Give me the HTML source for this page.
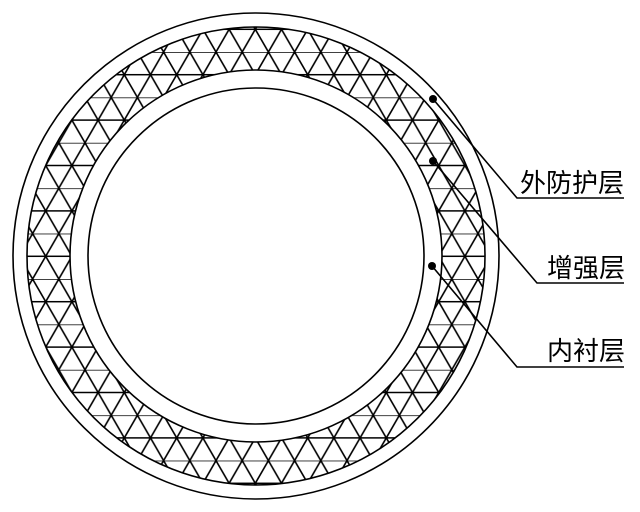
<!DOCTYPE html>
<html><head><meta charset="utf-8"><style>
html,body{margin:0;padding:0;background:#fff;}
svg{display:block;}
text{font-family:"Liberation Sans","Noto Sans CJK SC",sans-serif;font-size:26px;fill:#000;}
</style></head><body>
<svg width="640" height="512" viewBox="0 0 640 512" xmlns="http://www.w3.org/2000/svg">
<defs>
<pattern id="tri" patternUnits="userSpaceOnUse" width="26.2" height="45.4" patternTransform="translate(216,52)">
<g stroke="#000" stroke-width="1.6" fill="none">
<line x1="-1" y1="0" x2="27.2" y2="0"/>
<line x1="-1" y1="22.7" x2="27.2" y2="22.7"/>
<line x1="0" y1="0" x2="26.2" y2="45.4"/>
<line x1="26.2" y1="0" x2="0" y2="45.4"/>
</g>
</pattern>
</defs>
<path d="M256,27 a229,229 0 1,0 0.01,0 Z M256,70 a186,186 0 1,1 -0.01,0 Z" fill="url(#tri)" fill-rule="evenodd"/>
<g fill="none" stroke="#000" stroke-width="1.6">
<circle cx="256" cy="256" r="243"/>
<circle cx="256" cy="256" r="229"/>
<circle cx="256" cy="256" r="186"/>
<circle cx="256" cy="256" r="168"/>
<polyline points="433,99 517,198 624,198"/>
<polyline points="433,161 537,283 624,283"/>
<polyline points="432,266 517,367 624,367"/>
</g>
<circle cx="433" cy="99" r="4" fill="#000"/>
<circle cx="433" cy="161" r="4" fill="#000"/>
<circle cx="432" cy="266" r="4" fill="#000"/>
<text x="520" y="192">外防护层</text>
<text x="547" y="277">增强层</text>
<text x="547" y="360">内衬层</text>
</svg>
</body></html>
